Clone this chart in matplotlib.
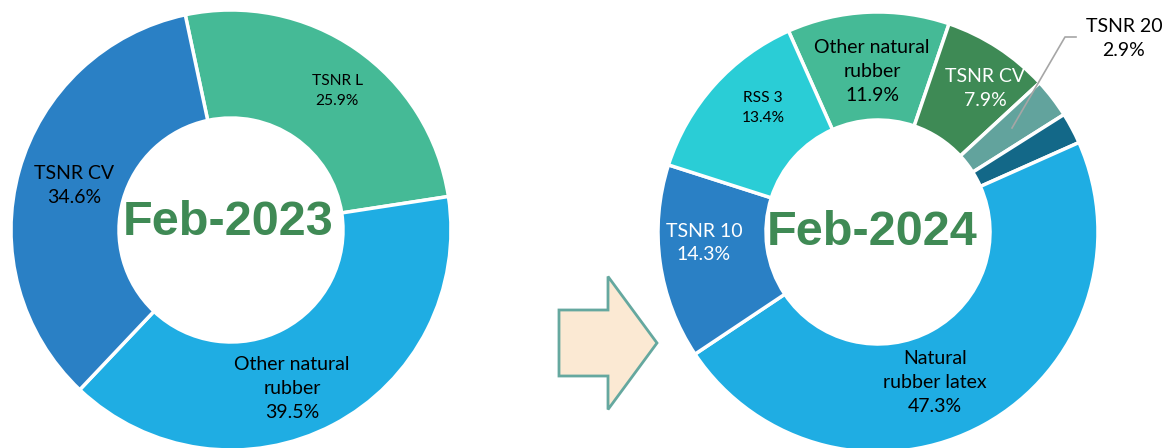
import matplotlib.pyplot as plt
from matplotlib.patches import FancyArrow

# data
labels_2023 = ["TSNR L", "Other natural rubber", "TSNR CV"]
values_2023 = [25.9, 39.5, 34.6]
colors_2023 = ["#45BA96", "#1FADE3", "#2A80C5"]

labels_2024 = ["Other natural rubber", "TSNR CV", "TSNR 20", "", "Natural rubber latex", "TSNR 10", "RSS 3"]
values_2024 = [11.9, 7.9, 2.9, 2.3, 47.3, 14.3, 13.4]
colors_2024 = ["#45BA96", "#3E8A55", "#62A39D", "#136888", "#1FADE3", "#2A80C5", "#2ACDD6"]

W, H = 1168, 448
fig = plt.figure(figsize=(W / 100, H / 100), dpi=100)
ax = fig.add_axes([0, 0, 1, 1])

def py(y):
    # pixel row -> data y
    return H - y

R = 220
ring = 108
wp = dict(width=ring, edgecolor="white", linewidth=2.5)

ax.pie(values_2023, colors=colors_2023, startangle=102, counterclock=False,
       center=(231, py(230)), radius=R, wedgeprops=wp)
ax.pie(values_2024, colors=colors_2024, startangle=114, counterclock=False,
       center=(878, py(232)), radius=R, wedgeprops=wp)

ax.set_xlim(0, W)
ax.set_ylim(0, H)
ax.set_aspect("equal")
ax.axis("off")

lab = dict(family="Lato", ha="center", va="center", linespacing=1.5)
big, small = 14, 11.2

# left labels
ax.text(337, py(91), "TSNR L\n25.9%", fontsize=small, color="black", **lab)
ax.text(74, py(185), "TSNR CV\n34.6%", fontsize=big, color="black", **lab)
ax.text(292, py(389), "Other natural\nrubber\n39.5%", fontsize=big, color="black", **lab)

# right labels
ax.text(872, py(71), "Other natural\nrubber\n11.9%", fontsize=big, color="black", **lab)
ax.text(985, py(88), "TSNR CV\n7.9%", fontsize=big, color="white", **lab)
ax.text(763, py(108), "RSS 3\n13.4%", fontsize=small, color="black", **lab)
ax.text(704, py(243), "TSNR 10\n14.3%", fontsize=big, color="white", **lab)
ax.text(935, py(383), "Natural\nrubber latex\n47.3%", fontsize=big, color="black", **lab)
ax.text(1124, py(38), "TSNR 20\n2.9%", fontsize=big, color="black", **lab)
ax.plot([1076, 1065, 1012], [py(37), py(37), py(128)], color="#A6A6A6", lw=1.2)

# centre titles
title = dict(family="Liberation Sans", fontweight="bold", fontsize=35,
             color="#3F8A55", ha="center", va="center")
ax.text(228, py(222), "Feb-2023", **title)
ax.text(872, py(232), "Feb-2024", **title)

# arrow between the two years
ax.add_patch(FancyArrow(559, py(343), 98, 0, width=66, head_width=133,
                        head_length=49, length_includes_head=True,
                        facecolor="#FBE9D3", edgecolor="#65A89F", linewidth=2))

fig.savefig("out.png", dpi=100)
